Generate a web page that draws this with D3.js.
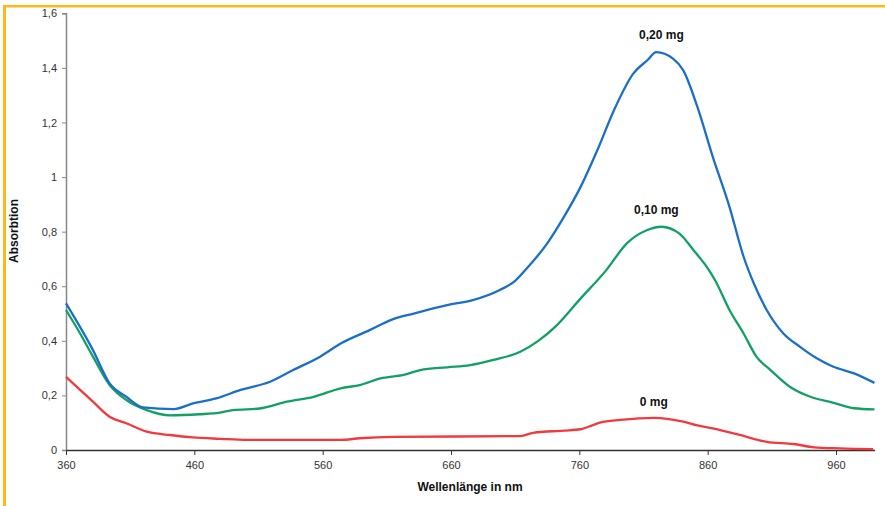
<!DOCTYPE html>
<html>
<head>
<meta charset="utf-8">
<script src="https://cdn.jsdelivr.net/npm/d3@7"></script>
<style>
  body { margin: 0; background: #fff; }
  svg { display: block; }
  .tick text { font-family: Arial, "Liberation Sans", sans-serif; font-size: 11px; fill: #333; }
</style>
</head>
<body>
<div id="chart"></div>
<script>
// tick labels
var xTicks = [360, 460, 560, 660, 760, 860, 960];
var yTicks = [0, 0.2, 0.4, 0.6, 0.8, 1, 1.2, 1.4, 1.6];

// 0,20 mg
var nm020  = [360, 381, 394, 407, 420, 444, 459, 477, 496, 519, 537, 558, 574, 597, 613, 631, 657, 677, 698, 710, 719, 735, 748, 761, 774, 787, 802, 813, 820, 833, 841, 852, 864, 877, 888, 896, 906, 919, 932, 945, 958, 974, 990];
var abs020 = [0.537, 0.366, 0.244, 0.195, 0.156, 0.150, 0.171, 0.189, 0.220, 0.250, 0.293, 0.342, 0.390, 0.440, 0.476, 0.500, 0.531, 0.549, 0.586, 0.620, 0.665, 0.757, 0.854, 0.964, 1.098, 1.245, 1.379, 1.428, 1.458, 1.434, 1.391, 1.257, 1.074, 0.891, 0.708, 0.610, 0.513, 0.427, 0.378, 0.336, 0.305, 0.281, 0.246];

// 0,10 mg
var nm010  = [360, 371, 381, 394, 407, 423, 441, 464, 480, 490, 511, 532, 553, 574, 589, 605, 623, 636, 657, 675, 693, 714, 728, 742, 760, 781, 797, 813, 824, 838, 849, 861, 866, 877, 888, 898, 909, 924, 940, 958, 974, 990];
var abs010 = [0.513, 0.427, 0.342, 0.238, 0.183, 0.146, 0.127, 0.131, 0.137, 0.146, 0.152, 0.177, 0.195, 0.226, 0.238, 0.262, 0.275, 0.293, 0.303, 0.311, 0.330, 0.360, 0.400, 0.455, 0.550, 0.659, 0.757, 0.806, 0.818, 0.793, 0.732, 0.659, 0.620, 0.513, 0.427, 0.342, 0.293, 0.232, 0.195, 0.173, 0.153, 0.149];

// 0 mg
var nm0  = [360, 371, 381, 394, 407, 423, 441, 459, 480, 501, 574, 589, 615, 714, 724, 748, 761, 771, 776, 792, 818, 841, 852, 864, 885, 906, 927, 943, 963, 989];
var abs0 = [0.268, 0.220, 0.177, 0.122, 0.098, 0.067, 0.055, 0.046, 0.041, 0.037, 0.037, 0.043, 0.048, 0.051, 0.063, 0.071, 0.076, 0.092, 0.100, 0.110, 0.118, 0.104, 0.090, 0.079, 0.055, 0.030, 0.022, 0.010, 0.006, 0.003];

var seriesNames  = ["0,20 mg", "0,10 mg", "0 mg"];
var seriesColors = ["#1b6fc6", "#12a064", "#f03a3d"];
var labelPos = [[824, 1.505], [820, 0.864], [818, 0.162]];

var W = 885, H = 506;
var x = d3.scaleLinear().domain([360, 990]).range([66, 874.5]);
var y = d3.scaleLinear().domain([0, 1.6]).range([450, 13.3]);

var svg = d3.select("#chart").append("svg")
    .attr("width", W)
    .attr("height", H);

// orange frame (top + left)
svg.append("rect").attr("x", 3).attr("y", 5).attr("width", W - 3).attr("height", 2.5).attr("fill", "#ffb71b");
svg.append("rect").attr("x", 3).attr("y", 5).attr("width", 3).attr("height", H - 5).attr("fill", "#ffb71b");

var fmt = function(d) { return d3.format("")(d).replace(".", ","); };

var yAxis = svg.append("g")
    .attr("transform", "translate(66,0)")
    .call(d3.axisLeft(y).tickValues(yTicks).tickSize(4).tickPadding(5).tickFormat(fmt));
yAxis.select(".domain").attr("stroke", "#888").attr("stroke-width", 1.5);
yAxis.selectAll(".tick line").attr("stroke", "#888");

var xAxis = svg.append("g")
    .attr("transform", "translate(0,450)")
    .call(d3.axisBottom(x).tickValues(xTicks).tickSize(5).tickPadding(6).tickSizeOuter(0).tickFormat(d3.format("d")));
xAxis.select(".domain").attr("stroke", "#333").attr("stroke-width", 1.3);
xAxis.selectAll(".tick line").attr("stroke", "#333");

var line = d3.line()
    .curve(d3.curveMonotoneX)
    .x(function(d) { return x(d[0]); })
    .y(function(d) { return y(d[1]); });

var sets = [d3.zip(nm020, abs020), d3.zip(nm010, abs010), d3.zip(nm0, abs0)];

// draw red first so blue sits on top
[2, 1, 0].forEach(function(i) {
    svg.append("path")
        .datum(sets[i])
        .attr("fill", "none")
        .attr("stroke", seriesColors[i])
        .attr("stroke-width", 2.3)
        .attr("stroke-linejoin", "round")
        .attr("d", line);
});

seriesNames.forEach(function(n, i) {
    svg.append("text")
        .attr("x", x(labelPos[i][0]))
        .attr("y", y(labelPos[i][1]))
        .attr("text-anchor", "middle")
        .attr("font-family", "Arial, 'Liberation Sans', sans-serif")
        .attr("font-size", "12px")
        .attr("font-weight", "bold")
        .attr("fill", "#111")
        .text(n);
});

svg.append("text")
    .attr("x", 470)
    .attr("y", 491)
    .attr("text-anchor", "middle")
    .attr("font-family", "Arial, 'Liberation Sans', sans-serif")
    .attr("font-size", "12px")
    .attr("font-weight", "bold")
    .attr("fill", "#111")
    .text("Wellenlänge in nm");

svg.append("text")
    .attr("transform", "translate(18,231) rotate(-90)")
    .attr("text-anchor", "middle")
    .attr("font-family", "Arial, 'Liberation Sans', sans-serif")
    .attr("font-size", "12px")
    .attr("font-weight", "bold")
    .attr("fill", "#111")
    .text("Absorbtion");
</script>
</body>
</html>
